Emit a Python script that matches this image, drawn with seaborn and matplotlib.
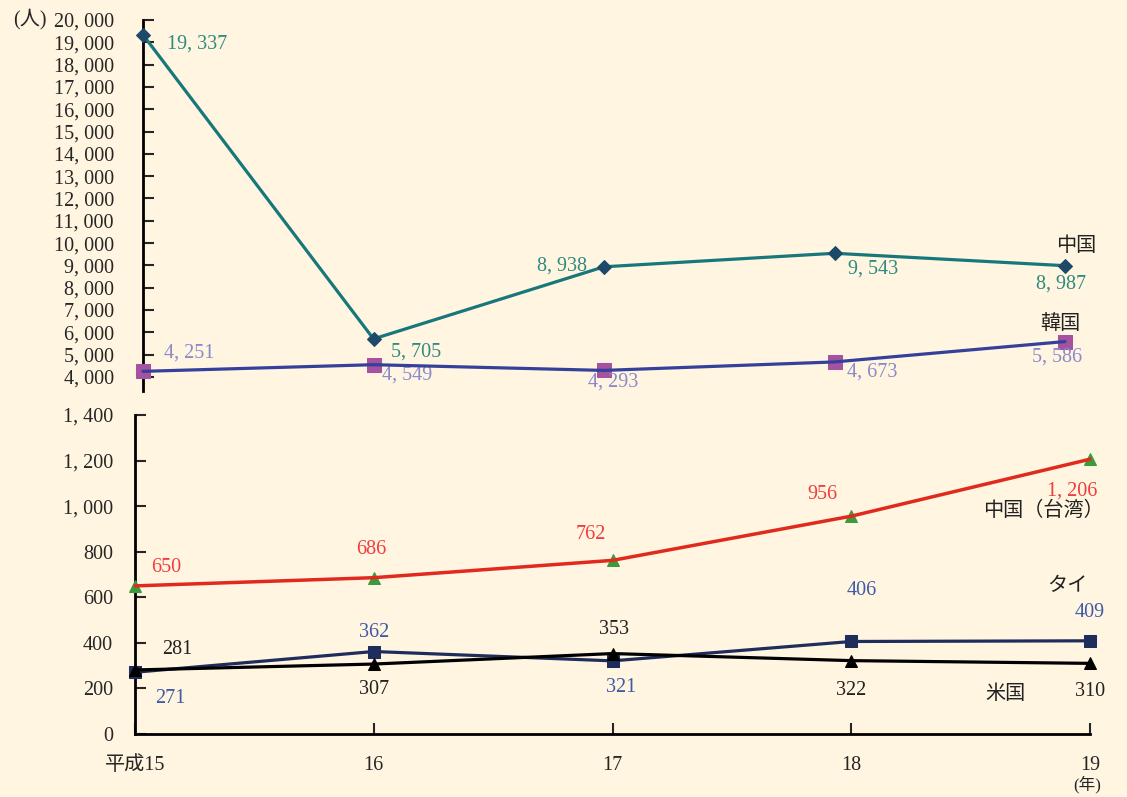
import matplotlib
matplotlib.use("Agg")
import matplotlib.pyplot as plt
import seaborn as sns
import pandas as pd

# data
years = ["平成15", "16", "17", "18", "19"]
china = [19337, 5705, 8938, 9543, 8987]
korea = [4251, 4549, 4293, 4673, 5586]
taiwan = [650, 686, 762, 956, 1206]
thai = [271, 362, 321, 406, 409]
usa = [281, 307, 353, 322, 310]

top_ticks = list(range(4000, 20001, 1000))
bottom_ticks = list(range(0, 1401, 200))

sns.set_style("white")
plt.rcParams['font.family'] = ['Liberation Serif', 'Noto Sans CJK JP', 'DejaVu Sans']

bg = '#FFF5E1'
fs = 14.5
fig = plt.figure(figsize=(11.27, 7.97), dpi=100, facecolor=bg)
ax1 = fig.add_axes([0.12689, 0.50941, 0.81810, 0.46550], facecolor=bg)
ax2 = fig.add_axes([0.11979, 0.07905, 0.84738, 0.40025], facecolor=bg)

xs = list(range(len(years)))
df_top = pd.DataFrame({'x': xs, '中国': china, '韓国': korea})
df_bot = pd.DataFrame({'x': xs, '中国（台湾）': taiwan, 'タイ': thai, '米国': usa})


def fmt(v):
    return f"{v:,}".replace(",", ", ")


def labels(ax, vals, offs, color):
    # offsets given in pixels (dx right, dy down)
    for x, v, (dx, dy) in zip(xs, vals, offs):
        ax.annotate(fmt(v), xy=(x, v), xytext=(dx * 0.72, -dy * 0.72),
                    textcoords='offset points', ha='center', va='center',
                    color=color, fontsize=fs)


# top panel
sns.lineplot(data=df_top, x='x', y='中国', ax=ax1, color='#17777A', lw=2.3,
             marker='D', markersize=7, markerfacecolor='#1E4A6A',
             markeredgecolor='#1E4A6A', zorder=3, clip_on=False)
sns.lineplot(data=df_top, x='x', y='韓国', ax=ax1, color='#A552A0', lw=0,
             marker='s', markersize=10, markeredgecolor='#A552A0', zorder=3, clip_on=False)
sns.lineplot(data=df_top, x='x', y='韓国', ax=ax1, color='#35409A', lw=2.3, zorder=4,
             clip_on=False)

labels(ax1, china, [(54, 9), (43, 13), (-42, -1), (39, 16), (-4, 18)], '#2E8B80')
labels(ax1, korea, [(46, -18), (34, 10), (9, 12), (38, 10), (-8, 15)], '#8A8ACB')
ax1.annotate('中国', xy=(4, china[-1]), xytext=(11 * 0.72, 19 * 0.72),
             textcoords='offset points', ha='center', va='center', fontsize=fs, color='#222')
ax1.annotate('韓国', xy=(4, korea[-1]), xytext=(-5 * 0.72, 17 * 0.72),
             textcoords='offset points', ha='center', va='center', fontsize=fs, color='#222')

ax1.set_xlim(0, 4)
ax1.set_ylim(3370, 20000)
ax1.set_yticks(top_ticks)
ax1.set_yticklabels([fmt(t) for t in top_ticks])
ax1.set_xticks([])
for s in ['top', 'right', 'bottom']:
    ax1.spines[s].set_visible(False)
ax1.spines['left'].set_linewidth(2)
ax1.spines['left'].set_color('black')
ax1.tick_params(axis='y', direction='in', length=8, width=1.5, pad=21,
                labelsize=fs, left=True)
ax1.set_xlabel('')
ax1.set_ylabel('')
fig.text(30 / 1127, 1 - 19 / 797, '(人)', ha='center', va='center', fontsize=fs)

# bottom panel
sns.lineplot(data=df_bot, x='x', y='中国（台湾）', ax=ax2, color='#3C9A3C', lw=0,
             marker='^', markersize=9, markeredgecolor='#3C9A3C', zorder=3, clip_on=False)
sns.lineplot(data=df_bot, x='x', y='中国（台湾）', ax=ax2, color='#E02A1E', lw=2.5, zorder=4,
             clip_on=False)
sns.lineplot(data=df_bot, x='x', y='タイ', ax=ax2, color='#1F2D5C', lw=2.3,
             marker='s', markersize=9, markeredgecolor='#1F2D5C', zorder=3, clip_on=False)
sns.lineplot(data=df_bot, x='x', y='米国', ax=ax2, color='black', lw=2.3,
             marker='^', markersize=9, markeredgecolor='black', zorder=3, clip_on=False)

labels(ax2, taiwan, [(31, -18), (-3, -28), (-22, -26), (-29, -22), (-18, 32)], '#F03C3C')
labels(ax2, thai, [(35, 26), (0, -19), (9, 27), (10, -51), (0, -28)], '#3E5BA8')
labels(ax2, usa, [(42, -20), (0, 25), (1, -24), (0, 30), (0, 28)], '#222222')

for txt, vals, (dx, dy) in [('中国（台湾）', taiwan, (-47, 52)),
                            ('タイ', thai, (-23, -54)),
                            ('米国', usa, (-85, 31))]:
    ax2.annotate(txt, xy=(4, vals[-1]), xytext=(dx * 0.72, -dy * 0.72),
                 textcoords='offset points', ha='center', va='center',
                 fontsize=fs, color='#222')

ax2.set_xlim(0, 4)
ax2.set_ylim(0, 1400)
ax2.set_yticks(bottom_ticks)
ax2.set_yticklabels([fmt(t) for t in bottom_ticks])
ax2.set_xticks(xs)
ax2.set_xticklabels(years)
for s in ['top', 'right']:
    ax2.spines[s].set_visible(False)
for s in ['left', 'bottom']:
    ax2.spines[s].set_linewidth(2)
    ax2.spines[s].set_color('black')
ax2.tick_params(axis='y', direction='in', length=8, width=1.5, pad=16,
                labelsize=fs, left=True)
ax2.tick_params(axis='x', direction='in', length=8, width=1.5, pad=16,
                labelsize=fs, bottom=True)
ax2.set_xlabel('')
ax2.set_ylabel('')
fig.text(1087 / 1127, 1 - 785 / 797, '(年)', ha='center', va='center', fontsize=12)

fig.savefig('out.png', dpi=100, facecolor=bg)
